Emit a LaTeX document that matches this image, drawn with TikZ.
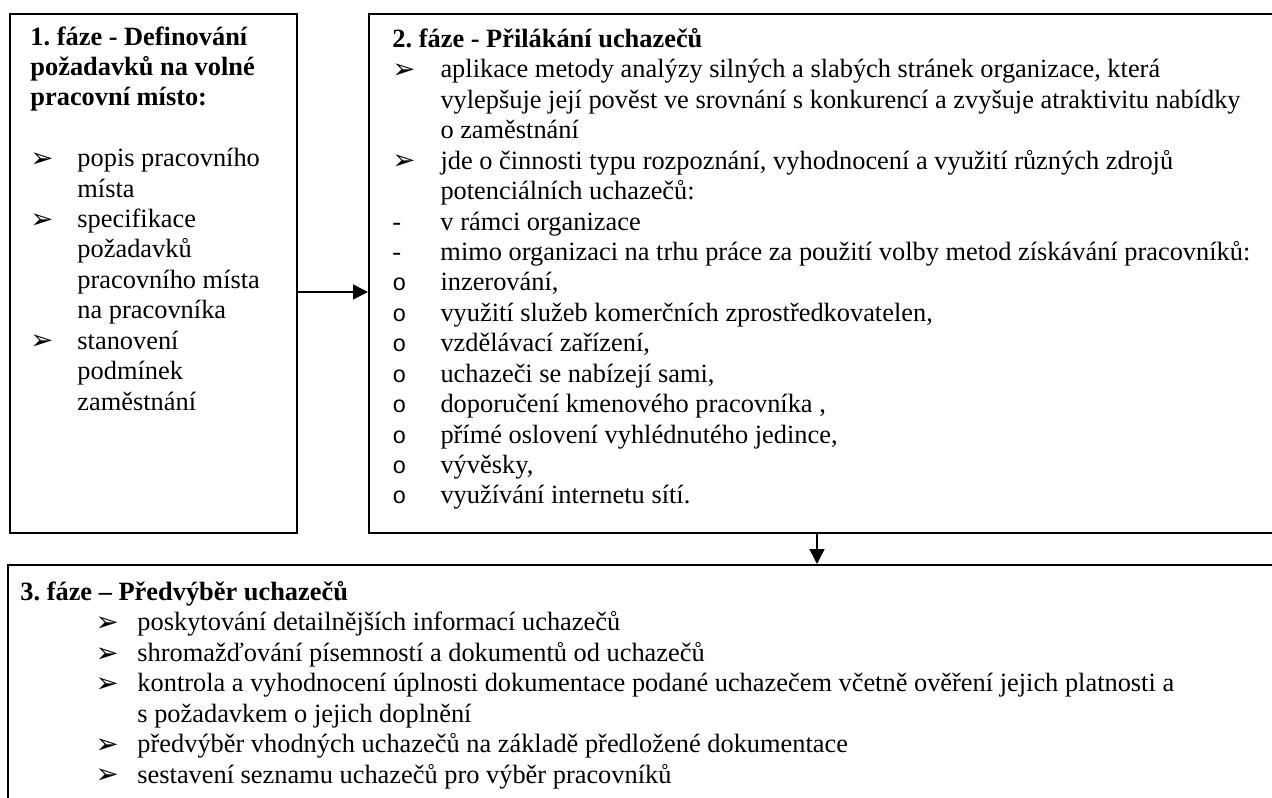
\documentclass[tikz,border=0pt]{standalone}
\usepackage{fontspec}
\setmainfont{Liberation Serif}
\newfontfamily\dejavu{DejaVu Sans}
\newfontfamily\mono{Liberation Mono}
\usetikzlibrary{arrows.meta,positioning}
\frenchspacing
\tikzset{>={Triangle[length=7pt,width=7pt]},
  phase/.style={draw,line width=0.9pt,inner sep=0pt,anchor=north west},
  content/.style={inner sep=0pt,anchor=north west,align=left,
    font=\fontsize{12.4}{14.3}\selectfont}}
\newlength\itmw
\newcommand\arr{\raisebox{-0.3pt}[0pt][0pt]{\dejavu\fontsize{13}{13}\selectfont ➢}}
\newcommand\crc{{\mono\fontsize{11}{11}\selectfont o}}
\newcommand\itm[2]{\makebox[\itmw][l]{#1}#2}
\newcommand\cont[1]{\hspace*{\itmw}#1}

\begin{document}
\begin{tikzpicture}[x=0.47pt,y=-0.47pt]
    \clip (0,0) rectangle (1272,798);
    % boxes
    \node[phase, minimum width=134.9pt, minimum height=243.9pt] (f1) at (9,13) {};
    \node[phase, minimum width=433.3pt, minimum height=243.9pt] (f2) at (368,13) {};
    \node[phase, minimum width=603pt, minimum height=120.3pt] (f3) at (7,564) {};

    % texts
    \node[content] (t1) at (30,26) {\global\itmw=22.1pt\relax
      \textbf{1. fáze - Definování}\\
      \textbf{požadavků na volné}\\
      \textbf{pracovní místo:}\\[14.3pt]
      \itm{\arr}{popis pracovního}\\
      \cont{místa}\\
      \itm{\arr}{specifikace}\\
      \cont{požadavků}\\
      \cont{pracovního místa}\\
      \cont{na pracovníka}\\
      \itm{\arr}{stanovení}\\
      \cont{podmínek}\\
      \cont{zaměstnání}};
    \node[content] (t2) at (392,28) {\global\itmw=22.6pt\relax
      \textbf{2. fáze - Přilákání uchazečů}\\
      \itm{\arr}{aplikace metody analýzy silných a slabých stránek organizace, která}\\
      \cont{vylepšuje její pověst ve srovnání s konkurencí a zvyšuje atraktivitu nabídky}\\
      \cont{o zaměstnání}\\
      \itm{\arr}{jde o činnosti typu rozpoznání, vyhodnocení a využití různých zdrojů}\\
      \cont{potenciálních uchazečů:}\\
      \itm{-}{v rámci organizace}\\
      \itm{-}{mimo organizaci na trhu práce za použití volby metod získávání pracovníků:}\\
      \itm{\crc}{inzerování,}\\
      \itm{\crc}{využití služeb komerčních zprostředkovatelen,}\\
      \itm{\crc}{vzdělávací zařízení,}\\
      \itm{\crc}{uchazeči se nabízejí sami,}\\
      \itm{\crc}{doporučení kmenového pracovníka ,}\\
      \itm{\crc}{přímé oslovení vyhlédnutého jedince,}\\
      \itm{\crc}{vývěsky,}\\
      \itm{\crc}{využívání internetu sítí.}};
    \node[content] (t3) at (20,581) {\global\itmw=19.7pt\relax
      \textbf{3. fáze – Předvýběr uchazečů}\\
      \hspace*{35.3pt}\itm{\arr}{poskytování detailnějších informací uchazečů}\\
      \hspace*{35.3pt}\itm{\arr}{shromažďování písemností a dokumentů od uchazečů}\\
      \hspace*{35.3pt}\itm{\arr}{kontrola a vyhodnocení úplnosti dokumentace podané uchazečem včetně ověření jejich platnosti a}\\
      \hspace*{35.3pt}\cont{s požadavkem o jejich doplnění}\\
      \hspace*{35.3pt}\itm{\arr}{předvýběr vhodných uchazečů na základě předložené dokumentace}\\
      \hspace*{35.3pt}\itm{\arr}{sestavení seznamu uchazečů pro výběr pracovníků}};

    % arrows
    \coordinate (y1) at (0,292);
    \coordinate (x2) at (817,0);
    \draw[->, line width=0.7pt] (f1.east |- y1) -- (f2.west |- y1);
    \draw[->, line width=0.7pt] (f2.south -| x2) -- (f3.north -| x2);
\end{tikzpicture}
\end{document}
